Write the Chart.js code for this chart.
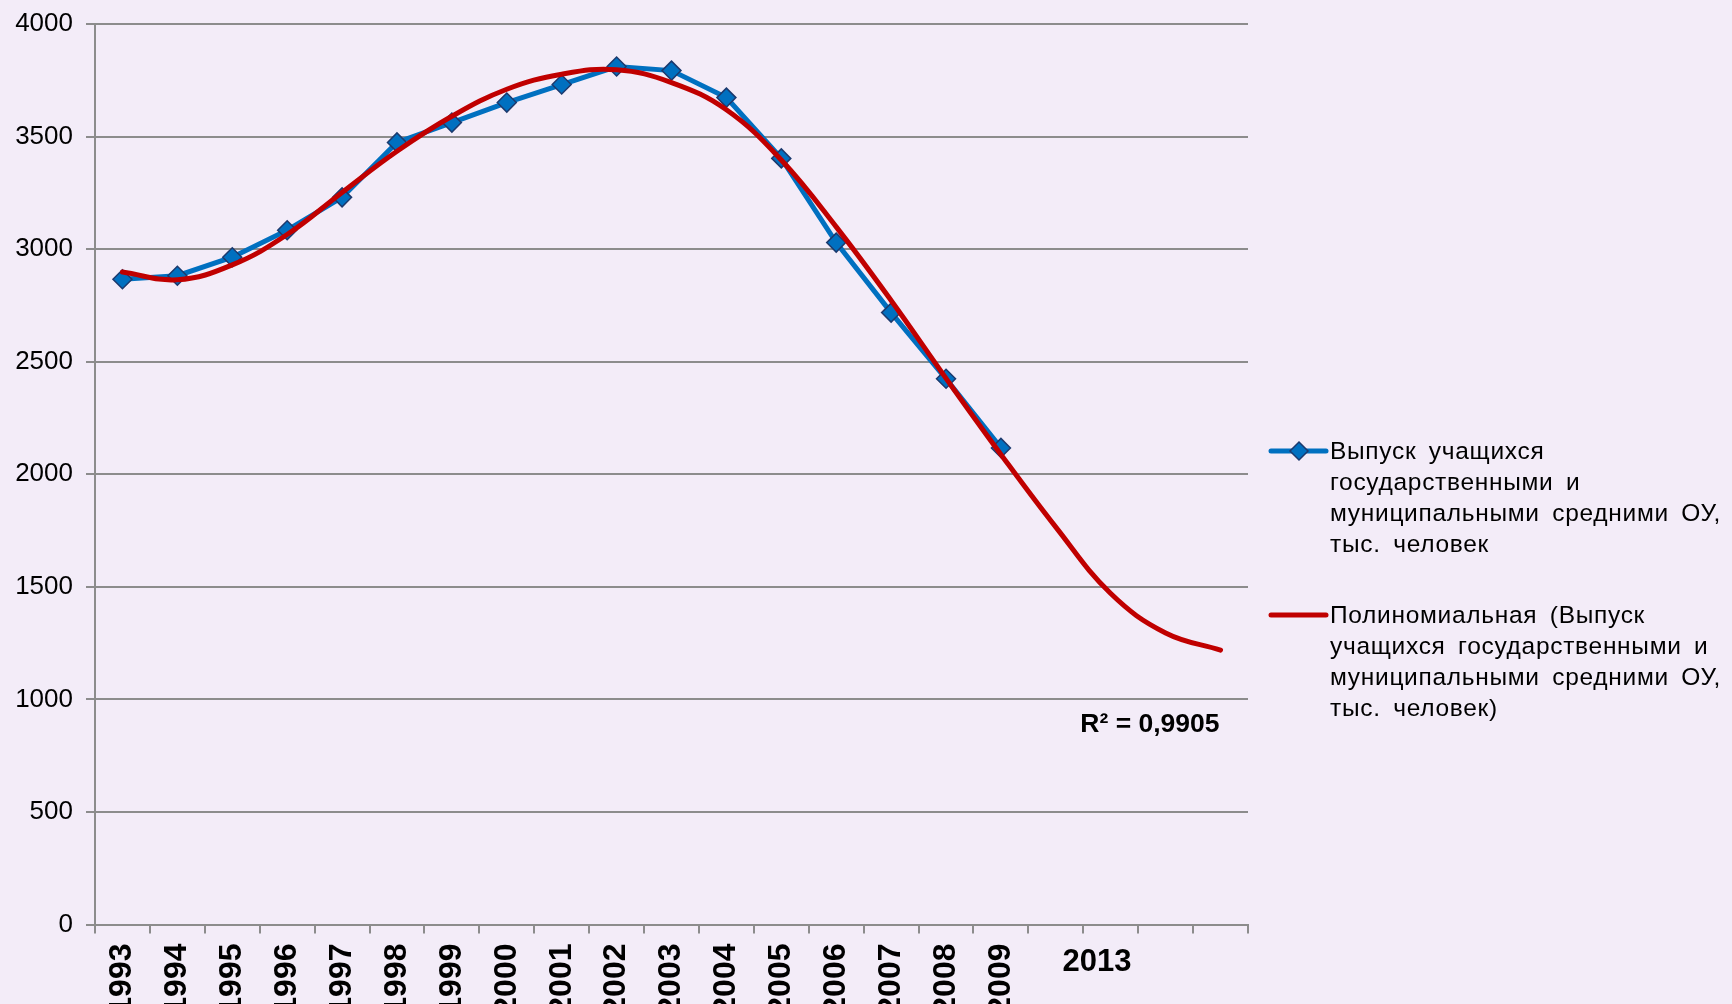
<!DOCTYPE html>
<html>
<head>
<meta charset="utf-8">
<script src="https://cdn.jsdelivr.net/npm/chart.js@4.4.1/dist/chart.umd.min.js"></script>
<style>
  html, body { margin: 0; padding: 0; background: #f3ecf8; }
  #wrap { width: 1732px; height: 1004px; position: relative; }
</style>
</head>
<body>
<div id="wrap"><canvas id="chart"></canvas></div>
<script>
// categories (trend is extended 4 periods forward to 2013)
const years = ['1993', '1994', '1995', '1996', '1997', '1998', '1999', '2000', '2001', '2002',
               '2003', '2004', '2005', '2006', '2007', '2008', '2009', '2010', '2011', '2012', '2013'];
// thousand people
const graduates = [2866, 2882, 2964, 3084, 3230, 3474, 3562, 3651, 3731, 3811,
                   3793, 3673, 3403, 3029, 2718, 2424, 2117];
// polynomial trend
const trendValues = [2898, 2864, 2930, 3065, 3252, 3435, 3590, 3710, 3777, 3797,
                     3740, 3619, 3396, 3099, 2772, 2426, 2088, 1765, 1470, 1295, 1219];
const yTicks = [0, 500, 1000, 1500, 2000, 2500, 3000, 3500, 4000];

const seriesLabel = 'Выпуск учащихся государственными и муниципальными средними ОУ, тыс. человек';
const trendLabel = 'Полиномиальная (Выпуск учащихся государственными и муниципальными средними ОУ, тыс. человек)';
const seriesLegendLines = ['Выпуск учащихся', 'государственными и', 'муниципальными средними ОУ,', 'тыс. человек'];
const trendLegendLines = ['Полиномиальная (Выпуск', 'учащихся государственными и', 'муниципальными средними ОУ,', 'тыс. человек)'];
const r2Label = 'R² = 0,9905';
const forecastLabel = '2013';

const FONT = '"Liberation Sans", Arial, sans-serif';
const BLUE = '#0070c0';
const RED = '#c00000';
const GRID = '#8c8c8c';

const extraText = {
  id: 'extraText',
  afterDraw(chart) {
    const { ctx, chartArea, scales: { x, y } } = chart;
    ctx.save();
    ctx.fillStyle = '#000';

    // R² of the trend
    ctx.font = 'bold 26.5px ' + FONT;
    ctx.textAlign = 'right';
    ctx.textBaseline = 'middle';
    ctx.fillText(r2Label, x.getPixelForValue(years.length - 1) - 1, y.getPixelForValue(1000) + 25);

    // lone horizontal year label under the forecast part
    ctx.font = 'bold 31px ' + FONT;
    ctx.textAlign = 'center';
    ctx.fillText(forecastLabel, x.getPixelForValue(17.75), chartArea.bottom + 38);

    // legend
    const lx = chartArea.right + 23;
    const entries = [
      { lines: seriesLegendLines, color: BLUE, marker: true },
      { lines: trendLegendLines, color: RED, marker: false }
    ];
    let ly = 451;
    ctx.font = '24.5px ' + FONT;
    ctx.letterSpacing = '0.7px';
    ctx.wordSpacing = '5px';
    ctx.textAlign = 'left';
    entries.forEach(e => {
      ctx.strokeStyle = e.color;
      ctx.lineWidth = 5;
      ctx.lineCap = 'round';
      ctx.beginPath();
      ctx.moveTo(lx, ly);
      ctx.lineTo(lx + 55, ly);
      ctx.stroke();
      if (e.marker) {
        const cx = lx + 28;
        ctx.beginPath();
        ctx.moveTo(cx, ly - 9);
        ctx.lineTo(cx + 9, ly);
        ctx.lineTo(cx, ly + 9);
        ctx.lineTo(cx - 9, ly);
        ctx.closePath();
        ctx.fillStyle = BLUE;
        ctx.fill();
        ctx.strokeStyle = '#1c3a6e';
        ctx.lineWidth = 1.5;
        ctx.stroke();
      }
      ctx.fillStyle = '#000';
      e.lines.forEach((t, i) => ctx.fillText(t, lx + 59, ly + 1 + i * 31));
      ly += e.lines.length * 31 + 40;
    });
    ctx.restore();
  }
};

new Chart(document.getElementById('chart'), {
  type: 'line',
  data: {
    labels: years,
    datasets: [{
      label: seriesLabel,
      data: graduates,
      borderColor: BLUE,
      borderWidth: 5,
      backgroundColor: BLUE,
      pointStyle: 'rectRot',
      pointRadius: 9.5,
      pointBorderColor: '#1c3a6e',
      pointBorderWidth: 1.5,
      pointBackgroundColor: BLUE,
      tension: 0,
      order: 2
    }, {
      label: trendLabel,
      data: trendValues,
      borderColor: RED,
      borderWidth: 5,
      borderCapStyle: 'round',
      pointRadius: 0,
      tension: 0.4,
      order: 1
    }]
  },
  options: {
    responsive: true,
    maintainAspectRatio: false,
    animation: false,
    layout: { padding: { top: 24, right: 484, left: 0, bottom: 0 } },
    plugins: {
      legend: { display: false },
      tooltip: { enabled: false }
    },
    scales: {
      x: {
        offset: true,
        grid: { offset: true, drawOnChartArea: false, color: GRID, lineWidth: 2, tickLength: 9 },
        border: { color: GRID, width: 2 },
        ticks: {
          autoSkip: false,
          minRotation: 90,
          maxRotation: 90,
          padding: 10,
          color: '#000',
          font: { family: FONT, size: 32, weight: 'bold' },
          callback: (v, i) => i < graduates.length ? years[i] : ''
        },
        afterFit: s => { s.height = 79.5; }
      },
      y: {
        min: 0,
        max: 4000,
        afterBuildTicks: s => { s.ticks = yTicks.map(v => ({ value: v })); },
        grid: { color: GRID, lineWidth: 2, tickLength: 9 },
        border: { color: GRID, width: 2 },
        ticks: { padding: 13, color: '#000', font: { family: FONT, size: 26 }, callback: v => String(v) },
        afterFit: s => { s.width = 95; s.paddingTop = 0; s.paddingBottom = 0; }
      }
    }
  },
  plugins: [extraText]
});
</script>
</body>
</html>
